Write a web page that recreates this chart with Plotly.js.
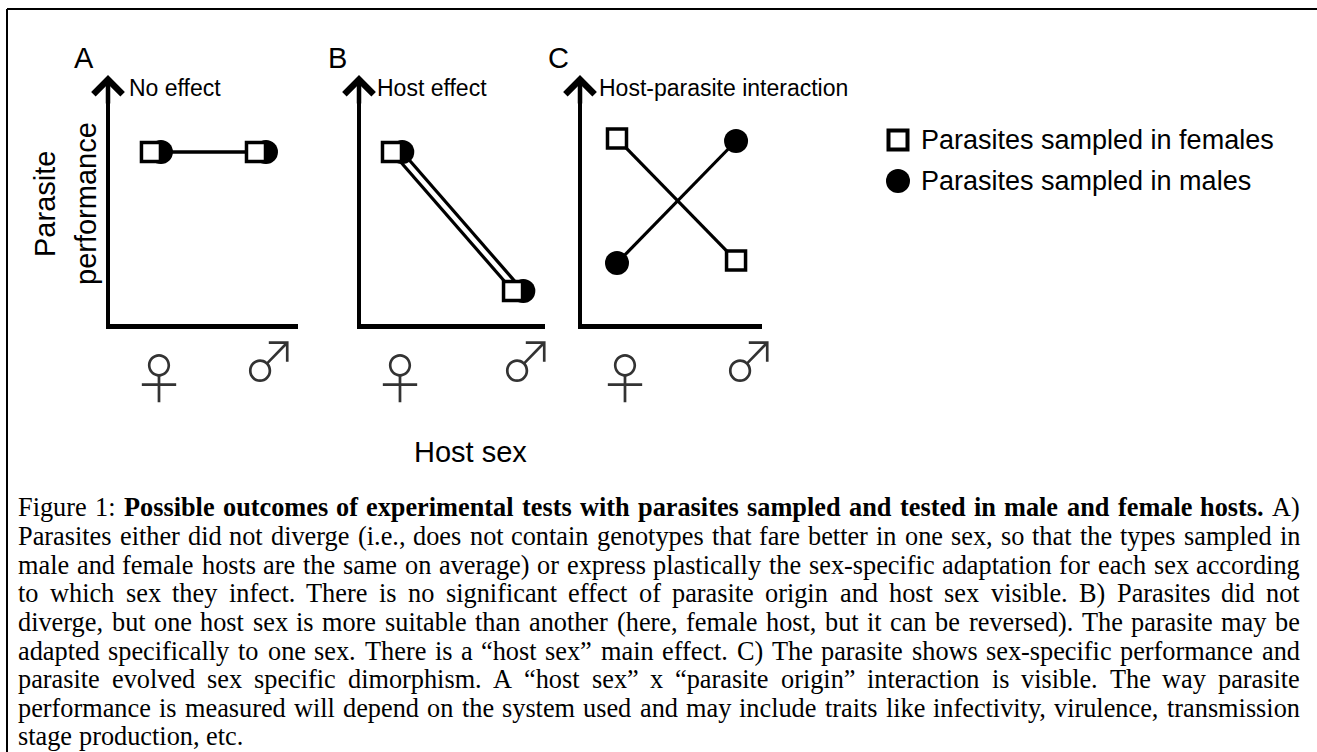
<!DOCTYPE html>
<html><head><meta charset="utf-8">
<script src="https://cdn.plot.ly/plotly-3.0.1.min.js"></script>
<style>html,body{margin:0;padding:0;background:#fff}</style>
</head><body><div id="chart" style="width:1317px;height:752px"></div>
<script>
// ---------------- data ----------------
const hostSex = ['Female host', 'Male host'];
const hostSexX = [1, 2];
const hostSexSymbols = ['\u2640', '\u2642'];
const seriesNames = ['Parasites sampled in females', 'Parasites sampled in males'];
const panelLetters = ['A', 'B', 'C'];
const panelTitles = ['No effect', 'Host effect', 'Host-parasite interaction'];
// parasite performance (arbitrary units, 0-1)
const perfFemaleParasitesA = [0.705, 0.705];
const perfMaleParasitesA   = [0.705, 0.705];
const perfFemaleParasitesB = [0.705, 0.135];
const perfMaleParasitesB   = [0.705, 0.135];
const perfFemaleParasitesC = [0.76, 0.26];
const perfMaleParasitesC   = [0.25, 0.75];
const legendRows = [0, 1];
const yAxisTitleLines = ['Parasite', 'performance'];
const xAxisTitle = 'Host sex';
const captionBoldPart = 'Possible outcomes of experimental tests with parasites sampled and tested in male and female hosts.';
const captionLines = [
  'Figure 1: Possible outcomes of experimental tests with parasites sampled and tested in male and female hosts. A)',
  'Parasites either did not diverge (i.e., does not contain genotypes that fare better in one sex, so that the types sampled in',
  'male and female hosts are the same on average) or express plastically the sex-specific adaptation for each sex according',
  'to which sex they infect. There is no significant effect of parasite origin and host sex visible. B) Parasites did not',
  'diverge, but one host sex is more suitable than another (here, female host, but it can be reversed). The parasite may be',
  'adapted specifically to one sex. There is a \u201chost sex\u201d main effect. C) The parasite shows sex-specific performance and',
  'parasite evolved sex specific dimorphism. A \u201chost sex\u201d x \u201cparasite origin\u201d interaction is visible. The way parasite',
  'performance is measured will depend on the system used and may include traits like infectivity, virulence, transmission',
  'stage production, etc.'
];

// ---------------- layout helpers ----------------
const W = 1317, H = 752;
const px = v => v / W;
const py = v => 1 - v / H;
const SANS = 'Liberation Sans, Arial, sans-serif';
const SERIF = 'Liberation Serif, Times New Roman, serif';
const BLACK = '#000';
// per-label styling so both symbol circles sit on the same line, as in the original
const tickLabelStyle = ['', 'baseline-shift:17px'];
const tickLabelPrefix = ['', '\u2009'];
const tickText = hostSexSymbols.map((t, k) =>
  tickLabelStyle[k] ? '<span style="' + tickLabelStyle[k] + '">' + tickLabelPrefix[k] + t + '</span>' : t);

const panelGeom = [
  {xl: 110, xr: 298, range: [0.61, 2.40], nudge: 0.095, letterX: 84, titleX: 127, axisX: 108},
  {xl: 361, xr: 545, range: [0.744, 2.264], nudge: 0.085, letterX: 337, titleX: 375, axisX: 359},
  {xl: 582, xr: 762, range: [0.706, 2.218], nudge: 0, letterX: 558, titleX: 597, axisX: 580}
];
const panelData = [
  [perfFemaleParasitesA, perfMaleParasitesA],
  [perfFemaleParasitesB, perfMaleParasitesB],
  [perfFemaleParasitesC, perfMaleParasitesC]
];
const yTop = 80, yBot = 324;

const traces = [];
const layout = {
  width: W, height: H,
  margin: {l: 0, r: 0, t: 0, b: 0},
  paper_bgcolor: '#fff', plot_bgcolor: 'rgba(0,0,0,0)',
  showlegend: false,
  annotations: [],
  shapes: [
    {type: 'line', xref: 'paper', yref: 'paper', x0: px(7), x1: 1, y0: py(9), y1: py(9), line: {color: BLACK, width: 2}},
    {type: 'line', xref: 'paper', yref: 'paper', x0: px(7), x1: px(7), y0: py(9), y1: 0, line: {color: BLACK, width: 2}}
  ]
};

panelGeom.forEach((g, i) => {
  const s = i === 0 ? '' : String(i + 1);
  const [fem, mal] = panelData[i];
  // males (circles) first so squares sit on top
  traces.push({
    type: 'scatter', mode: 'lines+markers', name: seriesNames[1],
    x: hostSexX.map(v => v + g.nudge), y: mal,
    xaxis: 'x' + s, yaxis: 'y' + s, cliponaxis: false,
    line: {color: BLACK, width: 3.2},
    marker: {symbol: 'circle', size: 24, color: BLACK}
  });
  traces.push({
    type: 'scatter', mode: 'lines+markers', name: seriesNames[0],
    x: hostSexX, y: fem,
    xaxis: 'x' + s, yaxis: 'y' + s, cliponaxis: false,
    line: {color: BLACK, width: 3.2},
    marker: {symbol: 'square', size: 19, color: '#fff', line: {color: BLACK, width: 3.5}}
  });
  layout['xaxis' + s] = {
    domain: [px(g.xl), px(g.xr)], range: g.range, anchor: 'y' + s,
    showline: true, linewidth: 4.5, linecolor: BLACK,
    showgrid: false, zeroline: false, ticks: '',
    tickvals: hostSexX, ticktext: tickText,
    tickfont: {family: 'Noto Sans CJK JP', size: 54, color: '#333', weight: 300},
    ticklabelstandoff: 6, ticklabelshift: 8, fixedrange: true
  };
  layout['yaxis' + s] = {
    domain: [py(yBot), py(yTop)], range: [0, 1], anchor: 'x' + s,
    showline: true, linewidth: 4.5, linecolor: BLACK,
    showgrid: false, zeroline: false, ticks: '', showticklabels: false, fixedrange: true
  };
  // arrow head on the y axis
  layout.annotations.push({
    xref: 'paper', yref: 'paper', x: px(g.axisX), y: py(75), ax: 0, ay: 30,
    text: '', showarrow: true, arrowhead: 4, arrowwidth: 4.5, arrowsize: 1.25, arrowcolor: BLACK
  });
  layout.annotations.push({
    xref: 'paper', yref: 'paper', x: px(g.letterX), y: py(58), xanchor: 'center', yanchor: 'middle',
    text: panelLetters[i], showarrow: false, font: {family: SANS, size: 29, color: BLACK}
  });
  layout.annotations.push({
    xref: 'paper', yref: 'paper', x: px(g.titleX), y: py(88), xanchor: 'left', yanchor: 'middle',
    text: panelTitles[i], showarrow: false, font: {family: SANS, size: 23, color: BLACK}
  });
});

// legend (own hidden axes)
traces.push({
  type: 'scatter', mode: 'markers', x: [0], y: [legendRows[0]], xaxis: 'x4', yaxis: 'y4', cliponaxis: false,
  marker: {symbol: 'square', size: 19, color: '#fff', line: {color: BLACK, width: 4}}
});
traces.push({
  type: 'scatter', mode: 'markers', x: [0], y: [legendRows[1]], xaxis: 'x4', yaxis: 'y4', cliponaxis: false,
  marker: {symbol: 'circle', size: 24, color: BLACK}
});
layout.xaxis4 = {domain: [px(880), px(1310)], range: [-18, 412], visible: false, fixedrange: true, anchor: 'y4'};
layout.yaxis4 = {domain: [py(200), py(120)], range: [1.463, -0.488], visible: false, fixedrange: true, anchor: 'x4'};
legendRows.forEach((r, k) => {
  layout.annotations.push({
    xref: 'x4', yref: 'y4', x: 21, y: r, xanchor: 'left', yanchor: 'middle',
    text: seriesNames[k], showarrow: false, font: {family: SANS, size: 27, color: BLACK}
  });
});

// axis titles
yAxisTitleLines.forEach((t, k) => {
  layout.annotations.push({
    xref: 'paper', yref: 'paper', x: px(k === 0 ? 45 : 86), y: py(204), xanchor: 'center', yanchor: 'middle',
    text: t, textangle: -90, showarrow: false, font: {family: SANS, size: 29, color: BLACK}
  });
});
layout.annotations.push({
  xref: 'paper', yref: 'paper', x: px(470), y: py(452), xanchor: 'center', yanchor: 'middle',
  text: xAxisTitle, showarrow: false, font: {family: SANS, size: 29, color: BLACK}
});

// caption, justified word by word
const ctx = document.createElement('canvas').getContext('2d');
function textW(t, bold, size) {
  ctx.font = (bold ? 'bold ' : '') + size + 'px "Liberation Serif"';
  return ctx.measureText(t).width;
}
const capX0 = 18, capX1 = 1300, capY0 = 508, capDy = 28.6;
const lineWords = captionLines.map((ln, li) => {
  const words = ln.split(' ');
  if (li === 0) {
    const bw = captionBoldPart.split(' ');
    const start = words.indexOf(bw[0]);
    return words.map((w, wi) => ({w, bold: wi >= start && wi < start + bw.length}));
  }
  return words.map(w => ({w, bold: false}));
});
let capSize = 100;
lineWords.slice(0, -1).forEach(ws => {
  const nat = ws.reduce((a, o) => a + textW(o.w, o.bold, 1), 0) + (ws.length - 1) * textW(' ', false, 1);
  capSize = Math.min(capSize, (capX1 - capX0) / nat);
});
capSize = Math.floor(capSize * 0.985 * 10) / 10;
lineWords.forEach((ws, li) => {
  const widths = ws.map(o => textW(o.w, o.bold, capSize));
  const total = widths.reduce((a, b) => a + b, 0);
  const last = li === lineWords.length - 1;
  const gap = last ? textW(' ', false, capSize) : (capX1 - capX0 - total) / (ws.length - 1);
  let x = capX0;
  ws.forEach((o, wi) => {
    layout.annotations.push({
      xref: 'paper', yref: 'paper', x: px(x), y: py(capY0 + li * capDy), xanchor: 'left', yanchor: 'middle',
      text: o.bold ? '<b>' + o.w + '</b>' : o.w, showarrow: false, borderpad: 0, borderwidth: 0,
      font: {family: SERIF, size: capSize, color: BLACK}
    });
    x += widths[wi] + gap;
  });
});

Plotly.newPlot('chart', traces, layout, {displayModeBar: false, staticPlot: true});
</script></body></html>
